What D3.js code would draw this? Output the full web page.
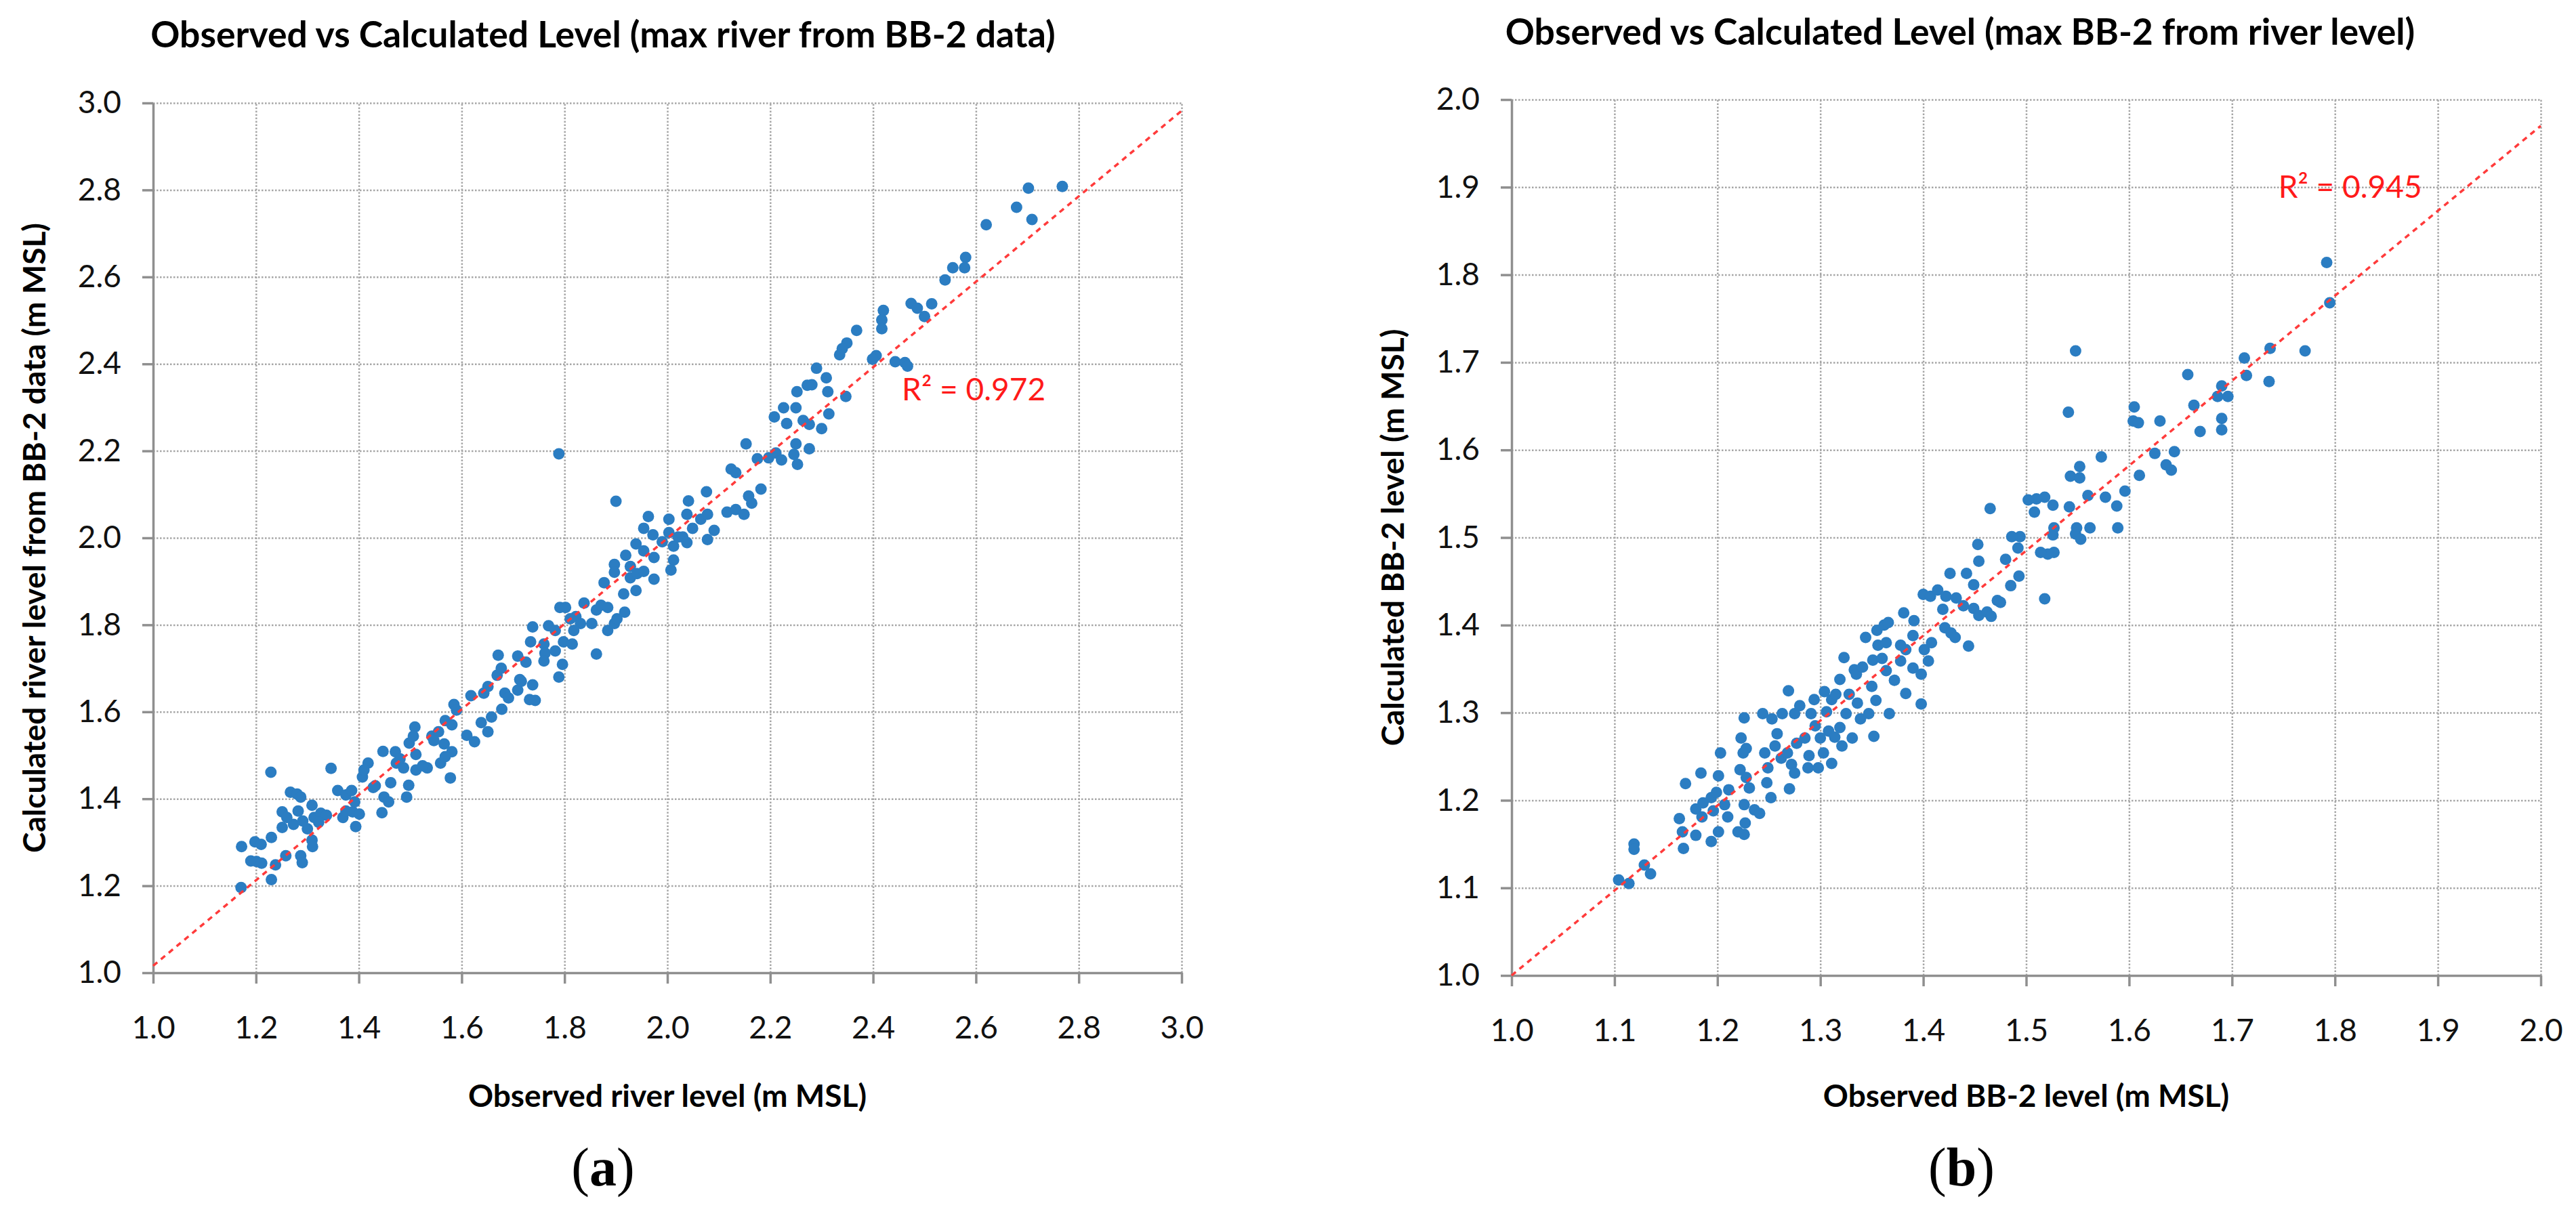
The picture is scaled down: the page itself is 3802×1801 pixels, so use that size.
<!DOCTYPE html>
<html>
<head>
<meta charset="utf-8">
<script src="https://cdn.jsdelivr.net/npm/d3@7"></script>
<style>
  body { margin: 0; background: #fff; }
  svg { display: block; }
  text { font-family: Lato, "Open Sans", sans-serif; }
</style>
</head>
<body>
<svg id="fig" width="3802" height="1801"></svg>
<script>
'use strict';

// Panel (a): observed river level vs calculated river level (from BB-2 data)
const obsA = [
  1.171,1.172,1.190,1.201,1.211,1.198,1.210,1.229,1.230,1.230,1.238,1.258,1.251,1.251,1.267,1.280,1.287,1.273,1.282,1.287,
  1.290,1.300,1.309,1.313,1.309,1.310,1.326,1.337,1.346,1.359,1.369,1.375,1.386,1.388,1.394,1.401,1.407,1.418,1.410,1.432,
  1.445,1.449,1.462,1.447,1.471,1.473,1.487,1.497,1.493,1.498,1.509,1.511,1.511,1.533,1.542,1.555,1.559,1.566,1.581,1.578,
  1.568,1.581,1.585,1.590,1.610,1.625,1.618,1.638,1.651,1.643,1.651,1.658,1.669,1.677,1.671,1.678,1.684,1.691,1.709,1.709,
  1.713,1.260,1.291,1.322,1.375,1.392,1.428,1.458,1.480,1.506,1.524,1.568,1.546,
  1.789,1.900,1.738,1.769,1.782,1.791,1.802,1.734,1.760,1.762,1.760,1.782,1.798,1.815,1.796,1.789,1.738,1.743,1.732,1.716,
  1.725,1.811,1.822,1.831,1.838,1.818,1.853,1.862,1.871,1.884,1.884,1.897,1.902,1.862,1.917,1.877,1.897,1.897,1.919,1.915,
  1.928,1.928,1.939,1.941,1.939,1.954,1.954,1.963,1.974,1.974,1.954,1.972,1.990,2.003,2.003,2.012,2.012,2.007,2.021,2.030,
  2.038,2.038,2.041,2.049,2.065,2.076,2.078,2.078,2.091,2.116,2.133,2.149,2.124,2.133,2.153,2.158,2.164,2.182,2.175,2.197,
  2.211,2.222,2.208,2.226,2.232,2.250,2.252,2.264,2.250,2.246,2.253,2.272,
  2.768,2.702,2.679,2.709,2.620,2.580,2.578,2.555,2.540,2.514,2.474,2.486,2.500,2.420,2.417,2.417,2.368,2.349,2.340,2.335,
  2.406,2.399,2.443,2.462,2.467,2.290,2.309,2.312,2.281,2.347,2.314,2.300,2.276,2.276
];
const calcA = [
  1.196,1.290,1.257,1.256,1.252,1.301,1.295,1.461,1.311,1.214,1.248,1.269,1.334,1.370,1.415,1.411,1.404,1.341,1.372,1.269,
  1.253,1.331,1.385,1.357,1.305,1.290,1.367,1.362,1.470,1.419,1.357,1.409,1.419,1.370,1.336,1.365,1.450,1.482,1.466,1.430,
  1.368,1.404,1.437,1.509,1.508,1.482,1.471,1.431,1.404,1.528,1.565,1.502,1.466,1.471,1.544,1.554,1.482,1.526,1.508,1.448,
  1.580,1.570,1.617,1.604,1.546,1.531,1.637,1.575,1.554,1.643,1.658,1.588,1.684,1.700,1.730,1.606,1.643,1.632,1.728,1.650,
  1.674,1.357,1.349,1.346,1.372,1.393,1.426,1.393,1.492,1.544,1.476,1.497,1.534,
  2.193,2.084,1.795,1.798,1.787,1.840,1.840,1.761,1.756,1.735,1.717,1.740,1.761,1.756,1.709,1.680,1.662,1.626,1.628,1.670,
  1.714,1.814,1.819,1.803,1.850,1.787,1.803,1.834,1.845,1.840,1.787,1.803,1.814,1.733,1.829,1.897,1.939,1.921,1.960,1.871,
  1.934,1.908,1.986,1.918,1.879,1.970,1.923,2.049,1.955,1.905,2.022,2.007,1.991,2.043,2.012,1.981,1.949,1.926,2.002,2.002,
  1.989,2.054,2.085,2.022,2.043,2.106,2.054,1.996,2.017,2.059,2.065,2.054,2.158,2.150,2.216,2.096,2.080,2.112,2.182,2.184,
  2.195,2.179,2.278,2.299,2.263,2.299,2.336,2.270,2.216,2.192,2.169,2.351,
  2.808,2.804,2.760,2.732,2.720,2.645,2.621,2.621,2.593,2.538,2.539,2.528,2.509,2.523,2.501,2.481,2.477,2.448,2.435,2.421,
  2.419,2.411,2.405,2.403,2.395,2.390,2.368,2.336,2.352,2.325,2.285,2.251,2.261,2.205
];

// Panel (b): observed BB-2 level vs calculated BB-2 level (from river level)
const obsB = [
  1.104,1.114,1.119,1.119,1.129,1.135,1.163,1.166,1.167,1.169,1.179,1.179,1.184,1.185,1.186,1.194,1.194,1.196,1.199,1.201,
  1.201,1.203,1.207,1.210,1.211,1.220,1.226,1.227,1.226,1.222,1.226,1.223,1.228,1.225,1.231,1.228,1.236,1.241,1.246,1.244,
  1.248,1.249,1.252,1.253,1.256,1.258,1.263,1.262,1.268,1.269,1.270,1.272,1.275,1.275,1.277,1.280,1.285,1.288,1.289,1.291,
  1.294,1.295,1.298,1.300,1.303,1.304,1.306,1.308,1.311,1.311,1.314,1.315,1.319,1.319,1.321,1.323,1.325,1.328,1.331,1.333,
  1.335,1.336,1.339,1.341,1.344,1.347,1.350,1.351,1.352,1.354,1.355,1.356,1.360,1.362,1.364,1.364,1.366,1.367,1.372,1.378,
  1.378,1.381,1.383,1.383,1.390,1.390,1.391,1.398,1.398,1.400,1.401,1.405,1.407,1.408,1.414,1.419,1.421,1.422,1.426,1.427,
  1.431,1.432,1.439,1.442,1.444,1.449,1.449,1.453,1.454,1.454,
  1.792,1.795,1.771,1.737,1.712,1.714,1.736,1.657,1.690,1.686,1.696,1.663,1.690,1.690,1.669,1.630,1.605,1.604,1.609,1.548,
  1.541,1.644,1.625,1.636,1.641,1.610,1.573,1.552,1.543,1.552,1.596,1.588,1.577,1.560,1.542,1.526,1.518,1.510,1.502,1.508,
  1.465,1.589,1.562,1.549,1.548,1.553,1.527,1.526,1.527,1.521,1.514,1.494,1.486,1.492,1.480,1.493,1.485,1.518,1.472,1.475,
  1.462,1.466
];
const calcB = [
  1.109,1.105,1.150,1.144,1.126,1.116,1.179,1.164,1.145,1.219,1.160,1.190,1.231,1.181,1.197,1.153,1.203,1.188,1.209,1.164,
  1.228,1.254,1.195,1.181,1.212,1.164,1.161,1.174,1.195,1.235,1.294,1.271,1.259,1.254,1.214,1.226,1.189,1.185,1.254,1.299,
  1.220,1.237,1.203,1.293,1.262,1.276,1.299,1.248,1.254,1.325,1.213,1.241,1.231,1.299,1.265,1.308,1.271,1.237,1.251,1.299,
  1.315,1.285,1.237,1.271,1.254,1.324,1.301,1.279,1.242,1.315,1.272,1.321,1.283,1.338,1.262,1.363,1.299,1.321,1.271,1.349,
  1.344,1.311,1.293,1.352,1.386,1.299,1.330,1.360,1.273,1.314,1.394,1.377,1.362,1.400,1.380,1.348,1.403,1.299,1.337,1.359,
  1.377,1.414,1.372,1.322,1.351,1.388,1.405,1.344,1.310,1.435,1.372,1.359,1.433,1.380,1.440,1.418,1.397,1.433,1.459,1.391,
  1.386,1.431,1.422,1.459,1.376,1.419,1.446,1.492,1.473,1.411,
  1.814,1.768,1.713,1.716,1.705,1.685,1.678,1.686,1.673,1.661,1.661,1.651,1.636,1.623,1.621,1.633,1.649,1.633,1.631,1.713,
  1.643,1.598,1.596,1.583,1.577,1.571,1.592,1.581,1.570,1.568,1.553,1.536,1.546,1.548,1.535,1.537,1.546,1.544,1.543,1.529,
  1.533,1.511,1.511,1.511,1.504,1.498,1.511,1.503,1.483,1.481,1.483,1.501,1.501,1.488,1.475,1.456,1.445,1.430,1.428,1.426,
  1.415,1.410
];

const ticksA = [1.0, 1.2, 1.4, 1.6, 1.8, 2.0, 2.2, 2.4, 2.6, 2.8, 3.0];
const ticksB = [1.0, 1.1, 1.2, 1.3, 1.4, 1.5, 1.6, 1.7, 1.8, 1.9, 2.0];

// linear trend lines (slope, intercept) and their R² labels
const trendA = [0.983, 0.033];
const trendB = [0.970, 0.030];
const r2A = "0.972";
const r2B = "0.945";

const svg = d3.select("#fig");

function drawPanel(p) {
  const w = p.right - p.left, h = p.bottom - p.top;
  const g = svg.append("g").attr("transform", "translate(" + p.left + "," + p.top + ")");

  const x = d3.scaleLinear().domain(p.domain).range([0, w]);
  const y = d3.scaleLinear().domain(p.domain).range([h, 0]);

  // dotted grid
  g.append("g")
    .attr("transform", "translate(0," + h + ")")
    .call(d3.axisBottom(x).tickValues(p.ticks).tickSize(-h).tickFormat(""))
    .call(s => s.select(".domain").remove());
  g.append("g")
    .call(d3.axisLeft(y).tickValues(p.ticks).tickSize(-w).tickFormat(""))
    .call(s => s.select(".domain").remove());
  g.selectAll(".tick line")
    .attr("stroke", "#a6a6a6")
    .attr("stroke-width", 2.5)
    .attr("stroke-dasharray", "2.5,2.5");

  // axes
  const fmt = d3.format(".1f");
  const xAxis = g.append("g")
    .attr("transform", "translate(0," + h + ")")
    .call(d3.axisBottom(x).tickValues(p.ticks).tickFormat(fmt).tickSize(16).tickSizeOuter(0).tickPadding(48));
  const yAxis = g.append("g")
    .call(d3.axisLeft(y).tickValues(p.ticks).tickFormat(fmt).tickSize(16).tickSizeOuter(0).tickPadding(31));
  [xAxis, yAxis].forEach(a => {
    a.select(".domain").attr("stroke", "#8f8f8f").attr("stroke-width", 3.5);
    a.selectAll(".tick line").attr("stroke", "#8f8f8f").attr("stroke-width", 3.5);
    a.selectAll(".tick text").attr("fill", "#111").style("font-size", "46px").style("font-family", "Lato, sans-serif");
  });

  // points
  g.append("g")
    .selectAll("circle")
    .data(p.obs.map((v, i) => [v, p.calc[i]]))
    .enter()
    .append("circle")
      .attr("cx", d => x(d[0]))
      .attr("cy", d => y(d[1]))
      .attr("r", 8.5)
      .attr("fill", "#2b7dc2");

  // trend line
  const line = d3.line().x(d => x(d)).y(d => y(p.trend[0] * d + p.trend[1]));
  g.append("path")
    .datum(p.domain)
    .attr("d", line)
    .attr("fill", "none")
    .attr("stroke", "#ff3b3b")
    .attr("stroke-width", 3.5)
    .attr("stroke-dasharray", "8,7");

  // R² label
  g.append("text")
    .attr("x", x(p.r2At[0]))
    .attr("y", y(p.r2At[1]))
    .attr("fill", "#ff1a1a")
    .style("font-size", "46px")
    .text("R² = " + p.r2);

  // titles
  svg.append("text")
    .attr("x", p.titleX).attr("y", p.titleY)
    .attr("text-anchor", "middle")
    .style("font-size", "53.5px").style("font-weight", "bold")
    .text(p.title);
  svg.append("text")
    .attr("x", (p.left + p.right) / 2).attr("y", 1634)
    .attr("text-anchor", "middle")
    .style("font-size", "46px").style("font-weight", "bold")
    .text(p.xTitle);
  svg.append("text")
    .attr("transform", "translate(" + (p.left - 159) + "," + ((p.top + p.bottom) / 2) + ") rotate(-90)")
    .attr("text-anchor", "middle")
    .style("font-size", "46px").style("font-weight", "bold")
    .text(p.yTitle);

  // panel letter
  const lab = svg.append("text")
    .attr("x", p.letterX).attr("y", 1750)
    .attr("text-anchor", "middle")
    .style("font-family", "'Liberation Serif', 'DejaVu Serif', serif")
    .style("font-size", "80px");
  lab.append("tspan").text("(");
  lab.append("tspan").style("font-weight", "bold").text(p.letter);
  lab.append("tspan").text(")");
}

drawPanel({
  left: 226, right: 1744, top: 152, bottom: 1436,
  domain: [1.0, 3.0], ticks: ticksA,
  obs: obsA, calc: calcA, trend: trendA,
  r2: r2A, r2At: [2.456, 2.316],
  title: "Observed vs Calculated Level (max river from BB-2 data)", titleX: 890, titleY: 70,
  xTitle: "Observed river level (m MSL)",
  yTitle: "Calculated river level from BB-2 data (m MSL)",
  letter: "a", letterX: 890
});

drawPanel({
  left: 2231, right: 3750, top: 147, bottom: 1440,
  domain: [1.0, 2.0], ticks: ticksB,
  obs: obsB, calc: calcB, trend: trendB,
  r2: r2B, r2At: [1.745, 1.888],
  title: "Observed vs Calculated Level (max BB-2 from river level)", titleX: 2893, titleY: 66,
  xTitle: "Observed BB-2 level (m MSL)",
  yTitle: "Calculated BB-2 level (m MSL)",
  letter: "b", letterX: 2895
});
</script>
</body>
</html>
